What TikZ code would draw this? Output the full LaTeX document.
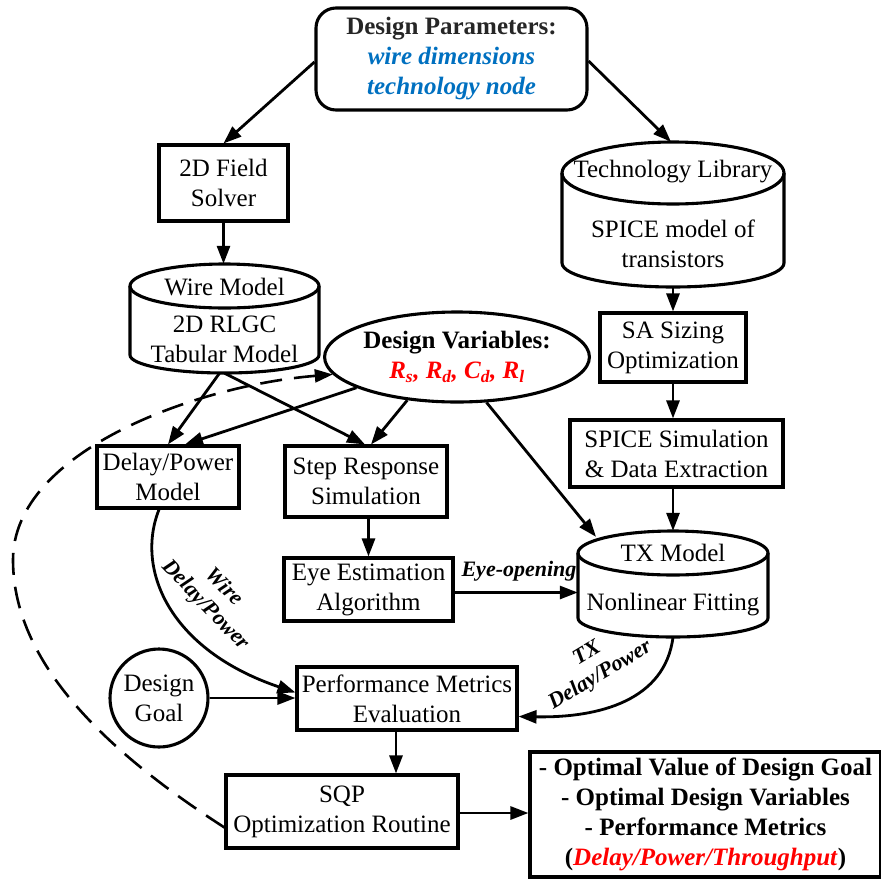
\documentclass[tikz,border=0pt]{standalone}
\usepackage{fontspec}
\setmainfont{Liberation Serif}
\usetikzlibrary{arrows.meta,shapes.geometric,calc}
\definecolor{pblue}{RGB}{0,112,192}
\definecolor{pred}{RGB}{255,0,0}
\newcommand\mainfs{\fontsize{25}{30}\selectfont}
\newcommand\lblfs{\fontsize{22}{25.5}\selectfont\bfseries\itshape}
% cylinder outline: #1 cx, #2 rx, #3 top ellipse cy, #4 top ry, #5 bottom cy, #6 bottom ry
\newcommand\cylout[6]{%
  \draw[cylline] (#1,#3) ellipse [x radius=#2, y radius=#4];
  \draw[cylline] ({#1-#2},#3) -- ({#1-#2},#5)
    .. controls ({#1-#2},{#5+0.5523*#6}) and ({#1-0.5523*#2},{#5+#6}) .. (#1,{#5+#6})
    .. controls ({#1+0.5523*#2},{#5+#6}) and ({#1+#2},{#5+0.5523*#6}) .. ({#1+#2},#5)
    -- ({#1+#2},#3);
}
\begin{document}
\begin{tikzpicture}[x=1pt,y=-1pt,
  box/.style={draw, line width=3.1pt, rectangle, inner sep=0pt, align=center, font=\mainfs},
  cylline/.style={line width=3.1pt},
  ghost/.style={draw=none, rectangle, inner sep=0pt},
  txt/.style={inner sep=0pt, align=center, font=\mainfs},
  arr/.style={line width=2.8pt, -{Triangle[length=18pt,width=13pt]}},
  dasharr/.style={line width=2.6pt, dash pattern=on 22pt off 12pt, -{Triangle[length=18pt,width=13pt]}},
  lbl/.style={inner sep=0pt, align=center, font=\lblfs}]
\useasboundingbox (0,0) rectangle (881,884);

% ---- nodes ----
\node[box, rounded corners=20pt, minimum width=271pt, minimum height=102pt] (dp) at (451.5,59)
  {\textcolor{black!85}{\textbf{Design Parameters:}}\\
   \textcolor{pblue}{\textbf{\textit{wire dimensions}}}\\
   \textcolor{pblue}{\textbf{\textit{technology node}}}};
\node[box, minimum width=129pt, minimum height=76pt] (tfs) at (223.5,183) {2D Field\\Solver};

% Technology library cylinder
\cylout{673}{111}{173}{31}{263}{24}
\node[ghost, minimum width=222pt, minimum height=145pt] (tl) at (673,214.5) {};
\node[txt] (tltop) at (673,172) {Technology Library};
\node[txt] (tlbody) at (673,244) {SPICE model of\\transistors};

% Wire model cylinder
\cylout{224.5}{94.5}{286}{22}{355}{18}
\node[ghost, minimum width=189pt, minimum height=109pt] (wm) at (224.5,318.5) {};
\node[txt] (wmtop) at (224.5,287) {Wire Model};
\node[txt] (wmbody) at (224.5,339) {2D RLGC\\Tabular Model};

% TX model cylinder
\cylout{673}{95}{553}{22}{618}{19}
\node[ghost, minimum width=190pt, minimum height=106pt] (tx) at (673,584) {};
\node[txt] (txtop) at (673,553) {TX Model};
\node[txt] (txbody) at (673,605) {Nonlinear Fitting};

\node[draw, ellipse, line width=3.1pt, inner sep=0pt, minimum width=234pt, minimum height=90pt, align=center, font=\mainfs] (dv) at (457,357)
  {\textbf{Design Variables:}\\
   \textcolor{pred}{\textbf{\textit{R\textsubscript{s}, R\textsubscript{d}, C\textsubscript{d}, R\textsubscript{l}}}}};

\node[box, minimum width=146pt, minimum height=69pt] (sa) at (673,347.5) {SA Sizing\\Optimization};
\node[box, minimum width=213pt, minimum height=67pt] (spice) at (676.5,453.5) {SPICE Simulation\\\& Data Extraction};
\node[box, minimum width=142pt, minimum height=62pt] (dpm) at (168,477) {Delay/Power\\Model};
\node[box, minimum width=162pt, minimum height=71pt] (step) at (366,481.5) {Step Response\\Simulation};
\node[box, minimum width=169pt, minimum height=63pt] (eye) at (368.5,589.5) {Eye Estimation\\Algorithm};
\node[draw, circle, line width=3.1pt, inner sep=0pt, minimum size=98pt, align=center, font=\mainfs] (dg) at (159,698) {Design\\Goal};
\node[box, minimum width=220pt, minimum height=63pt] (perf) at (407,698.5) {Performance Metrics\\Evaluation};
\node[box, minimum width=232pt, minimum height=73pt] (sqp) at (342,811.5) {SQP\\Optimization Routine};
\node[box, minimum width=351pt, minimum height=125pt] (out) at (705.5,814.5)
  {\textbf{- Optimal Value of Design Goal}\\
   \textbf{- Optimal Design Variables}\\
   \textbf{- Performance Metrics}\\
   \textbf{(\textcolor{pred}{\textit{Delay/Power/Throughput}})}};

% ---- connectors ----
\draw[arr] ([yshift=-3pt]dp.west) -- (tfs.north);
\draw[arr] ([yshift=-2pt]dp.east) -- ([xshift=-2pt]tl.north);
\draw[arr] (tfs.south) -- (tfs.south |- wm.north);
\draw[arr] ([xshift=-5pt]wm.south) -- (dpm.north);
\draw[arr] (wm.south) -- ([xshift=-1pt]step.north);
\draw[arr] (dv.197) -- ([xshift=17pt]dpm.north);
\draw[arr] (dv.221) -- ([xshift=5pt]step.north);
\draw[arr] (dv.303) -- ($(tx.north)+(-77,6)$);
\draw[arr] (tl.south) -- (sa.north);
\draw[arr] (sa.south) -- (sa.south |- spice.north);
\draw[arr] (tx.north |- spice.south) -- (tx.north);
\draw[arr] (eye.north |- step.south) -- (eye.north);
\draw[arr] ([yshift=-3pt]eye.east) -- ([yshift=-3pt]eye.east -| tx.west);
\draw[arr] (dg.east) -- (dg.east -| perf.west);
\draw[arr] ([xshift=-11pt]perf.south) -- ([xshift=-11pt]perf.south |- sqp.north);
\draw[arr] ([yshift=-1.5pt]sqp.east) -- ([yshift=-1.5pt]sqp.east -| out.west);
\draw[arr] ([xshift=-9pt]dpm.south) .. controls (135,570) and (170,650) .. ([yshift=6pt]perf.west);
\draw[arr] (tx.south) .. controls (665,700) and (600,718) .. ([yshift=-18pt]perf.east);
\draw[dasharr] ([yshift=-16pt]sqp.west) .. controls (120,760) and (13,670) .. (13,560)
   .. controls (13,450) and (200,385) .. (dv.188);

% ---- connector labels ----
\node[lbl] (leo) at (519,571) {Eye-opening};
\node[lbl, rotate=-46] (lw) at (214.5,596.5) {Wire\\Delay/Power};
\node[lbl, rotate=31] (lt) at (594,665) {TX\\Delay/Power};
\end{tikzpicture}
\end{document}
